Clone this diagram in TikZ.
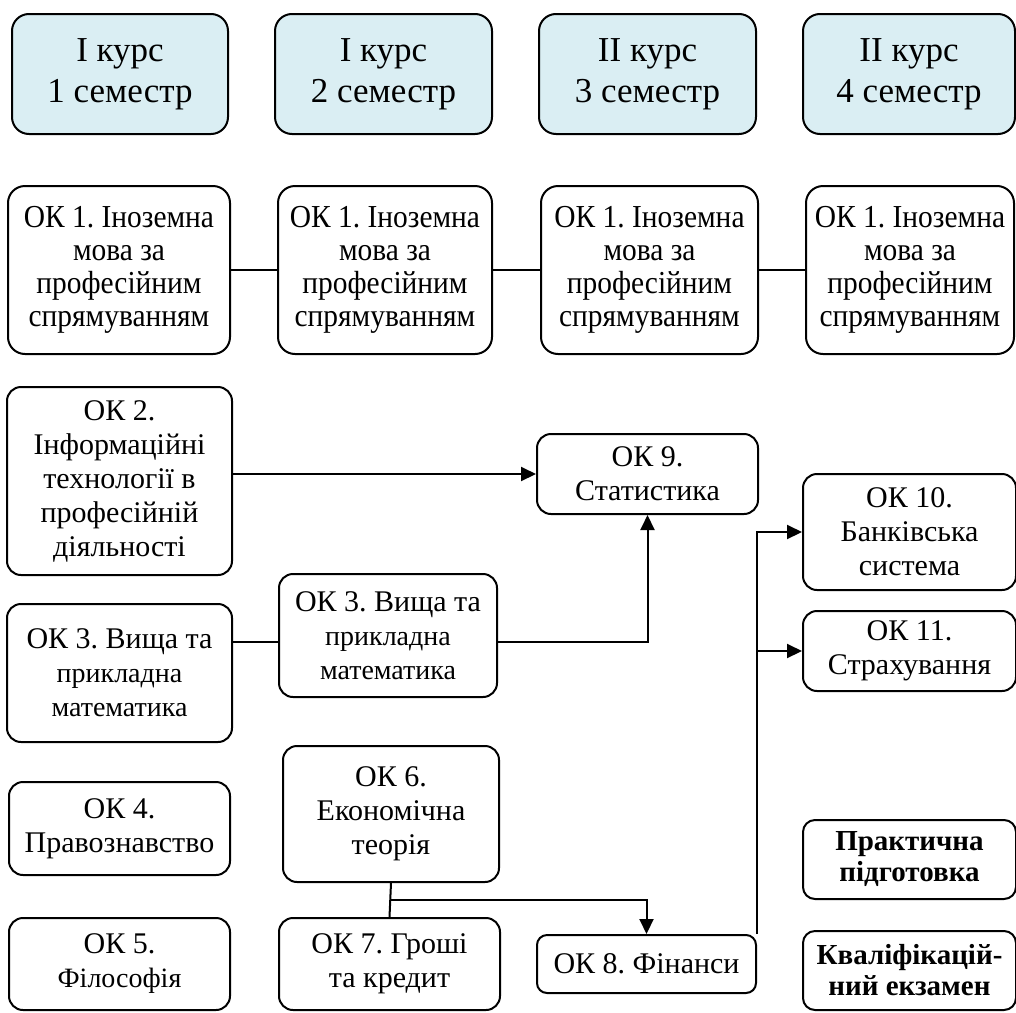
\documentclass[tikz,border=0pt]{standalone}
\usepackage{fontspec}
\setmainfont{Liberation Serif}
%% Slightly narrowed face for the language boxes.
\newfontfamily\narrowfont[FakeStretch=0.92]{Liberation Serif}
\usetikzlibrary{arrows.meta}
\definecolor{semblue}{HTML}{DAEEF3}

\tikzset{
  box/.style={draw, line width=2pt, rounded corners=14pt, align=center,
    inner sep=0pt, font=\fontsize{30}{34}\selectfont},
  sembox/.style={box, fill=semblue, rounded corners=17pt,
    font=\fontsize{35}{41}\selectfont},
  langbox/.style={box, rounded corners=17pt,
    font=\narrowfont\fontsize{32}{33}\selectfont},
  smallbox/.style={box, rounded corners=10pt},
  boldbox/.style={box, rounded corners=12pt,
    font=\bfseries\fontsize{29}{31}\selectfont},
  link/.style={line width=2pt},
  arr/.style={link, -{Triangle[length=15pt,width=14pt]}},
}
%% Smaller size for the second lines of some boxes.
\newcommand\sm{\fontsize{28}{31}\selectfont}

\begin{document}
\frenchspacing
\begin{tikzpicture}[x=1pt, y=-1pt]
  %% Page size, one unit per pixel of the reference.
  \useasboundingbox (0,0) rectangle (1016,1012);

  %% Semesters.
  \node[sembox, minimum width=216pt, minimum height=120pt] (s1) at (120,74) {I курс\\1 семестр};
  \node[sembox, minimum width=217pt, minimum height=120pt] (s2) at (383.5,74) {I курс\\2 семестр};
  \node[sembox, minimum width=217pt, minimum height=120pt] (s3) at (647.5,74) {II курс\\3 семестр};
  \node[sembox, minimum width=212pt, minimum height=120pt] (s4) at (909,74) {II курс\\4 семестр};

  %% Foreign language runs through all four semesters.
  \node[langbox, minimum width=222pt, minimum height=168pt] (a1) at (119,270) {ОК 1. Іноземна\\мова за\\професійним\\спрямуванням};
  \node[langbox, minimum width=214pt, minimum height=168pt] (a2) at (385,270) {ОК 1. Іноземна\\мова за\\професійним\\спрямуванням};
  \node[langbox, minimum width=217pt, minimum height=168pt] (a3) at (649.5,270) {ОК 1. Іноземна\\мова за\\професійним\\спрямуванням};
  \node[langbox, minimum width=208pt, minimum height=168pt] (a4) at (910,270) {ОК 1. Іноземна\\мова за\\професійним\\спрямуванням};

  %% First semester.
  \node[box, minimum width=225pt, minimum height=188pt] (ok2) at (119.5,481) {ОК 2.\\Інформаційні\\технології в\\професійній\\діяльності};
  \node[box, minimum width=225pt, minimum height=138pt] (m1) at (119.5,673) {ОК 3. Вища та\\\sm прикладна\\\sm математика};
  \node[box, minimum width=221pt, minimum height=93pt] (ok4) at (119.5,828.5) {ОК 4.\\Правознавство};
  \node[box, minimum width=221pt, minimum height=92pt] (ok5) at (119.5,964) {ОК 5.\\\sm Філософія};

  %% Second semester.
  \node[box, minimum width=218pt, minimum height=123pt] (m2) at (388,635.5) {ОК 3. Вища та\\\sm прикладна\\\sm математика};
  \node[box, minimum width=216pt, minimum height=136pt] (ok6) at (391,814) {ОК 6.\\Економічна\\теорія};
  \node[box, minimum width=221pt, minimum height=92pt] (ok7) at (389.5,964) {ОК 7. Гроші\\та кредит};

  %% Third semester.
  \node[box, minimum width=221pt, minimum height=80pt] (ok9) at (647.5,474) {ОК 9.\\Статистика};
  \node[smallbox, minimum width=219pt, minimum height=58pt] (ok8) at (646.5,964) {ОК 8. Фінанси};

  %% Fourth semester.
  \node[box, minimum width=213pt, minimum height=116pt] (ok10) at (909.5,532) {ОК 10.\\Банківська\\система};
  \node[box, minimum width=213pt, minimum height=80pt] (ok11) at (909.5,651) {ОК 11.\\Страхування};
  \node[boldbox, minimum width=213pt, minimum height=79pt] (pr) at (909.5,859.5) {Практична\\підготовка};
  \node[boldbox, minimum width=213pt, minimum height=79pt] (kv) at (909.5,970.5) {Кваліфікацій-\\ний екзамен};

  %% Junctions.
  \coordinate (j3) at (648,642);
  \coordinate (j6) at (391,900);

  %% Connectors.
  \draw[link] (a1) -- (a2);
  \draw[link] (a2) -- (a3);
  \draw[link] (a3) -- (a4);
  \draw[arr] (ok2.east |- ok9.west) -- (ok9.west);
  \draw[link] (m1.east |- j3) -- (m2.west |- j3);
  \draw[arr] (m2.east |- j3) -| (ok9.south);
  \draw[link] (ok6.south) -- (ok7.north);
  \draw[arr] (j6) -| (ok8.north);
  \draw[arr] (ok8.north east) |- (ok10.west);
  \draw[arr] (ok8.north east |- ok11.west) -- (ok11.west);
\end{tikzpicture}
\end{document}
